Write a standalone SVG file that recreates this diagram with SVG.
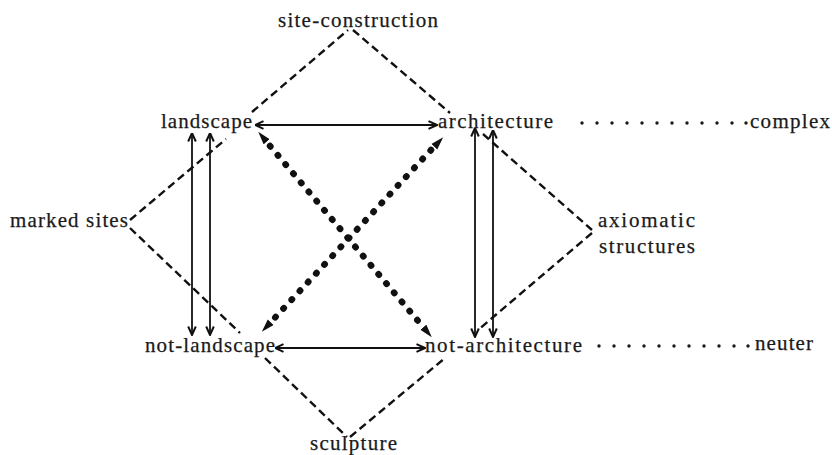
<svg xmlns="http://www.w3.org/2000/svg" width="832" height="455" viewBox="0 0 832 455">
<style>
text{font-family:"Liberation Serif","DejaVu Serif",serif;font-size:21px;fill:#1a1a1a;stroke:#1a1a1a;stroke-width:0.25;}
.dash{stroke:#111;stroke-width:2.4;stroke-dasharray:8 4.5;fill:none;}
.arr{stroke:#111;stroke-width:1.8;fill:none;marker-start:url(#ah);marker-end:url(#ah);}
.dot{stroke:#111;stroke-width:6.5;stroke-linecap:round;stroke-dasharray:0.6 11.4;fill:none;}
.head{stroke:#111;stroke-width:0.01;fill:none;marker-start:url(#dh);marker-end:url(#dh);}
.sep{fill:#1a1a1a;}
</style>
<defs>
<marker id="ah" viewBox="0 0 10 10" refX="9.5" refY="5" markerWidth="10" markerHeight="10" markerUnits="userSpaceOnUse" orient="auto-start-reverse">
<path d="M1,1.2 L9.5,5 L1,8.8" fill="none" stroke="#111" stroke-width="2"/>
</marker>
<marker id="dh" viewBox="0 0 13 9" refX="1" refY="4.5" markerWidth="13" markerHeight="9" markerUnits="userSpaceOnUse" orient="auto-start-reverse">
<path d="M0,0.5 L13,4.5 L0,8.5 Z" fill="#111"/>
</marker>
</defs>
<g id="connectors">
<line class="dash" x1="252" y1="112" x2="348" y2="30"/>
<line class="dash" x1="353" y1="30" x2="450" y2="113"/>
<line class="dash" x1="130" y1="220" x2="226" y2="139"/>
<line class="dash" x1="130" y1="228" x2="240" y2="333"/>
<line class="dash" x1="265" y1="358" x2="347" y2="437"/>
<line class="dash" x1="350" y1="437" x2="445" y2="358"/>
<line class="dash" x1="483" y1="134" x2="592" y2="230"/>
<line class="dash" x1="592" y1="233" x2="478" y2="330"/>
<line class="arr" x1="255" y1="125" x2="437" y2="125"/>
<line class="arr" x1="275" y1="348" x2="425" y2="348"/>
<line class="arr" x1="192" y1="133" x2="192" y2="335"/>
<line class="arr" x1="210" y1="133" x2="210" y2="335"/>
<line class="arr" x1="475" y1="128" x2="475" y2="337"/>
<line class="arr" x1="493" y1="130" x2="493" y2="337"/>
<line class="dot" x1="270" y1="146" x2="424" y2="328"/>
<line class="dot" x1="431" y1="150" x2="270" y2="323"/>
<path class="head" d="M266,141 L424,328"/>
<path class="head" d="M435,146 L270,323"/>
</g>
<g id="site-construction"><text x="278" y="27" textLength="160" lengthAdjust="spacing">site-construction</text></g>
<g id="landscape"><text x="161" y="128" textLength="91" lengthAdjust="spacing">landscape</text></g>
<g id="architecture"><text x="438" y="128" textLength="115" lengthAdjust="spacing">architecture</text></g>
<g id="complex">
<g class="sep">
<circle cx="582" cy="123" r="1.7"/><circle cx="597" cy="123" r="1.7"/><circle cx="612" cy="123" r="1.7"/><circle cx="627" cy="123" r="1.7"/><circle cx="642" cy="123" r="1.7"/><circle cx="657" cy="123" r="1.7"/><circle cx="672" cy="123" r="1.7"/><circle cx="687" cy="123" r="1.7"/><circle cx="702" cy="123" r="1.7"/><circle cx="717" cy="123" r="1.7"/><circle cx="732" cy="123" r="1.7"/><circle cx="746" cy="123" r="1.7"/>
</g>
<text x="750" y="128" textLength="80" lengthAdjust="spacing">complex</text>
</g>
<g id="marked-sites"><text x="10" y="227" textLength="118" lengthAdjust="spacing">marked sites</text></g>
<g id="axiomatic-structures">
<text x="598" y="227" textLength="97" lengthAdjust="spacing">axiomatic</text>
<text x="599" y="253" textLength="96" lengthAdjust="spacing">structures</text>
</g>
<g id="not-landscape"><text x="145" y="352" textLength="130" lengthAdjust="spacing">not-landscape</text></g>
<g id="not-architecture"><text x="425" y="352" textLength="157" lengthAdjust="spacing">not-architecture</text></g>
<g id="neuter">
<g class="sep">
<circle cx="599" cy="346" r="1.7"/><circle cx="614" cy="346" r="1.7"/><circle cx="629" cy="346" r="1.7"/><circle cx="644" cy="346" r="1.7"/><circle cx="659" cy="346" r="1.7"/><circle cx="674" cy="346" r="1.7"/><circle cx="689" cy="346" r="1.7"/><circle cx="704" cy="346" r="1.7"/><circle cx="719" cy="346" r="1.7"/><circle cx="734" cy="346" r="1.7"/><circle cx="748" cy="346" r="1.7"/>
</g>
<text x="755" y="350" textLength="58" lengthAdjust="spacing">neuter</text>
</g>
<g id="sculpture"><text x="310" y="450" textLength="87" lengthAdjust="spacing">sculpture</text></g>
</svg>
